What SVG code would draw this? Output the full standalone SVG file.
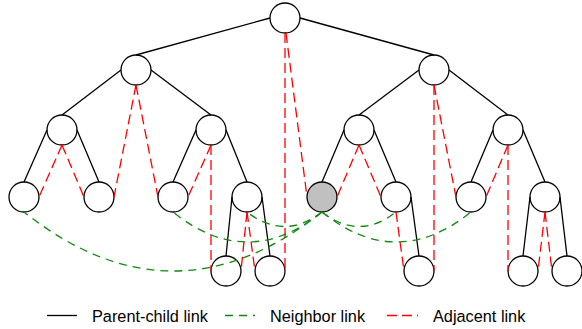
<svg xmlns="http://www.w3.org/2000/svg" width="582" height="329" viewBox="0 0 582 329">
<style>
.node{fill:#fff;stroke:#000;stroke-width:1.3}
.sel{fill:#c0c0c0}
.pc{stroke:#000;stroke-width:1.3;fill:none}
.adj{stroke:#ff0000;stroke-width:1.3;fill:none;stroke-dasharray:10 5}
.nb{stroke:#118811;stroke-width:1.3;fill:none;stroke-dasharray:8 6}
text{font-family:"Liberation Sans",Arial,sans-serif;font-size:16.3px;fill:#000}
</style>
<rect width="582" height="329" fill="#fff"/>
<g id="nodes">
<g id="n0"><circle class="node" cx="285" cy="18" r="15"/></g>
<g id="n1"><circle class="node" cx="136" cy="70" r="15"/></g>
<g id="n2"><circle class="node" cx="434" cy="70" r="15"/></g>
<g id="n3"><circle class="node" cx="62" cy="130" r="15"/></g>
<g id="n4"><circle class="node" cx="211" cy="130" r="15"/></g>
<g id="n5"><circle class="node" cx="359" cy="130" r="15"/></g>
<g id="n6"><circle class="node" cx="508" cy="130" r="15"/></g>
<g id="n7"><circle class="node" cx="24" cy="197" r="15"/></g>
<g id="n8"><circle class="node" cx="99" cy="197" r="15"/></g>
<g id="n9"><circle class="node" cx="173" cy="197" r="15"/></g>
<g id="n10"><circle class="node" cx="247" cy="197" r="15"/></g>
<g id="n11"><circle class="node sel" cx="322" cy="197" r="15"/></g>
<g id="n12"><circle class="node" cx="396" cy="197" r="15"/></g>
<g id="n13"><circle class="node" cx="471" cy="197" r="15"/></g>
<g id="n14"><circle class="node" cx="545" cy="197" r="15"/></g>
<g id="n15"><circle class="node" cx="226" cy="271" r="15"/></g>
<g id="n16"><circle class="node" cx="270" cy="271" r="15"/></g>
<g id="n17"><circle class="node" cx="419" cy="271" r="15"/></g>
<g id="n18"><circle class="node" cx="523" cy="271" r="15"/></g>
<g id="n19"><circle class="node" cx="567" cy="271" r="15"/></g>
</g>
<g id="connectors">
<g id="parent-child">
<path class="pc" d="M270,18L136,55M300,18L434,55M121,70L62,115M151,70L211,115M419,70L359,115M449,70L508,115M47,130L24,182M77,130L99,182M196,130L173,182M226,130L247,182M344,130L322,182M374,130L396,182M493,130L471,182M523,130L545,182M232,197L226,256M262,197L270,256M411,197L419,256M530,197L523,256M560,197L567,256"/>
</g>
<g id="adjacent">
<path class="adj" d="M285,33L285,271"/>
<path class="adj" d="M286,33L307,197"/>
<path class="adj" d="M136,85L114,197"/>
<path class="adj" d="M136,85L158,197"/>
<path class="adj" d="M62,145L39,197"/>
<path class="adj" d="M62,145L84,197"/>
<path class="adj" d="M211,145L188,197"/>
<path class="adj" d="M211,145L211,271"/>
<path class="adj" d="M247,212L241,271"/>
<path class="adj" d="M247,212L255,271"/>
<path class="adj" d="M434,85L434,271"/>
<path class="adj" d="M434,85L456,197"/>
<path class="adj" d="M359,145L337,197"/>
<path class="adj" d="M359,145L381,197"/>
<path class="adj" d="M396,212L404,271"/>
<path class="adj" d="M508,145L486,197"/>
<path class="adj" d="M508,145L508,271"/>
<path class="adj" d="M545,212L538,271"/>
<path class="adj" d="M545,212L552,271"/>
</g>
<g id="neighbor">
<path class="nb" d="M322,212Q173,330 24,212"/>
<path class="nb" d="M322,212Q247.5,272 173,212"/>
<path class="nb" d="M322,212Q284.5,241 247,212"/>
<path class="nb" d="M322,212Q359,241 396,212"/>
<path class="nb" d="M322,212Q396.5,272 471,212"/>
</g>
</g>
<g id="legend">
<line class="pc" x1="47" y1="315.5" x2="77" y2="315.5"/>
<text x="92" y="321.5">Parent-child link</text>
<line class="nb" x1="225" y1="315.5" x2="255" y2="315.5"/>
<text x="270" y="321.5">Neighbor link</text>
<line class="adj" x1="387" y1="315.5" x2="418" y2="315.5"/>
<text x="433" y="321.5">Adjacent link</text>
</g>
</svg>
